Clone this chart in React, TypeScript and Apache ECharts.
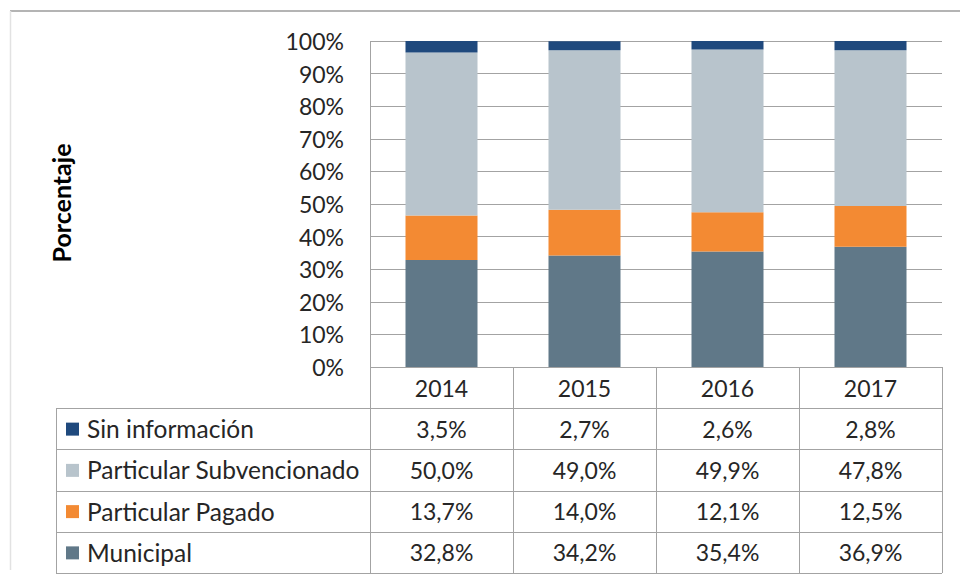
import React, { useEffect, useRef } from "react";
import * as echarts from "echarts";

const years = ["2014", "2015", "2016", "2017"];
const sinInformacion = [3.5, 2.7, 2.6, 2.8];
const particularSubvencionado = [50.0, 49.0, 49.9, 47.8];
const particularPagado = [13.7, 14.0, 12.1, 12.5];
const municipal = [32.8, 34.2, 35.4, 36.9];
const yTicks = { min: 0, max: 100, interval: 10 };
const yAxisTitle = "Porcentaje";

const seriesDefs = [
  { name: "Municipal", data: municipal, color: "#607888" },
  { name: "Particular Pagado", data: particularPagado, color: "#F38A33" },
  { name: "Particular Subvencionado", data: particularSubvencionado, color: "#B8C4CC" },
  { name: "Sin información", data: sinInformacion, color: "#1F497D" },
];

const FONT = "Lato";
const W = 960;
const H = 579;
const GL = 370;
const GR = 942;
const GT = 41;
const GB = 367;
const TL = 56;
const HEADER_B = 408;
const ROW_H = 41.25;
const LINE = "#a3a3a3";
const TXT = "#262626";

const fmt = (v: number) => v.toFixed(1).replace(".", ",") + "%";

export default function App() {
  const ref = useRef<HTMLDivElement>(null);
  useEffect(() => {
    if (!ref.current) return;
    const chart = echarts.init(ref.current, null, { renderer: "svg" });
    const colW = (GR - GL) / years.length;
    const rows = [...seriesDefs].reverse();
    const tableBottom = HEADER_B + ROW_H * rows.length;
    const graphics: any[] = [];
    // outer frame
    graphics.push({ type: "line", shape: { x1: 10, y1: 11, x2: W, y2: 11 }, style: { stroke: "#b4b4b4", lineWidth: 2 } });
    graphics.push({ type: "line", shape: { x1: 10.5, y1: 11, x2: 10.5, y2: 570 }, style: { stroke: "#e2e2e2", lineWidth: 1.5 } });
    // table horizontal lines
    for (let i = 0; i <= rows.length; i++) {
      const y = Math.round(HEADER_B + ROW_H * i) + 0.5;
      graphics.push({ type: "line", shape: { x1: TL, y1: y, x2: GR, y2: y }, style: { stroke: LINE, lineWidth: 1 } });
    }
    // vertical lines
    for (let j = 0; j <= years.length; j++) {
      const x = Math.round(GL + colW * j) + 0.5;
      graphics.push({ type: "line", shape: { x1: x, y1: j === 0 ? GT : GB, x2: x, y2: tableBottom }, style: { stroke: LINE, lineWidth: 1 } });
    }
    graphics.push({ type: "line", shape: { x1: TL + 0.5, y1: HEADER_B, x2: TL + 0.5, y2: tableBottom }, style: { stroke: LINE, lineWidth: 1 } });
    // header years
    years.forEach((yr, j) => {
      graphics.push({
        type: "text",
        x: GL + colW * (j + 0.5),
        y: (GB + HEADER_B) / 2,
        style: { text: yr, fontFamily: FONT, fontSize: 23, fill: TXT, align: "center", verticalAlign: "middle" },
      });
    });
    // rows
    rows.forEach((s, i) => {
      const cy = HEADER_B + ROW_H * (i + 0.5);
      graphics.push({ type: "rect", shape: { x: 66, y: cy - 6, width: 13, height: 13 }, style: { fill: s.color } });
      graphics.push({
        type: "text",
        x: 87,
        y: cy,
        style: { text: s.name, fontFamily: FONT, fontSize: 24.5, fill: TXT, align: "left", verticalAlign: "middle" },
      });
      s.data.forEach((v, j) => {
        graphics.push({
          type: "text",
          x: GL + colW * (j + 0.5),
          y: cy,
          style: { text: fmt(v), fontFamily: FONT, fontSize: 23, fill: TXT, align: "center", verticalAlign: "middle" },
        });
      });
    });
    // axis title
    graphics.push({
      type: "text",
      x: 61,
      y: 203,
      rotation: Math.PI / 2,
      style: { text: yAxisTitle, fontFamily: FONT, fontSize: 25, fontWeight: "bold", fill: "#000", align: "center", verticalAlign: "middle" },
    });

    chart.setOption({
      animation: false,
      backgroundColor: "#fff",
      grid: { left: GL, right: W - GR, top: GT, bottom: H - GB, containLabel: false },
      xAxis: {
        type: "category",
        data: years,
        axisLine: { show: false },
        axisTick: { show: false },
        axisLabel: { show: false },
        splitLine: { show: false },
      },
      yAxis: {
        type: "value",
        min: yTicks.min,
        max: yTicks.max,
        interval: yTicks.interval,
        axisLine: { show: false },
        axisTick: { show: false },
        axisLabel: { formatter: "{value}%", fontFamily: FONT, fontSize: 23, color: TXT, margin: 26 },
        splitLine: { lineStyle: { color: LINE, width: 1 } },
      },
      series: seriesDefs.map((s) => ({
        name: s.name,
        type: "bar",
        stack: "total",
        data: s.data,
        barWidth: 72,
        itemStyle: { color: s.color },
      })),
      graphic: graphics,
    });
    return () => chart.dispose();
  }, []);
  return <div ref={ref} style={{ position: "fixed", left: 0, top: 0, width: W, height: H }} />;
}
